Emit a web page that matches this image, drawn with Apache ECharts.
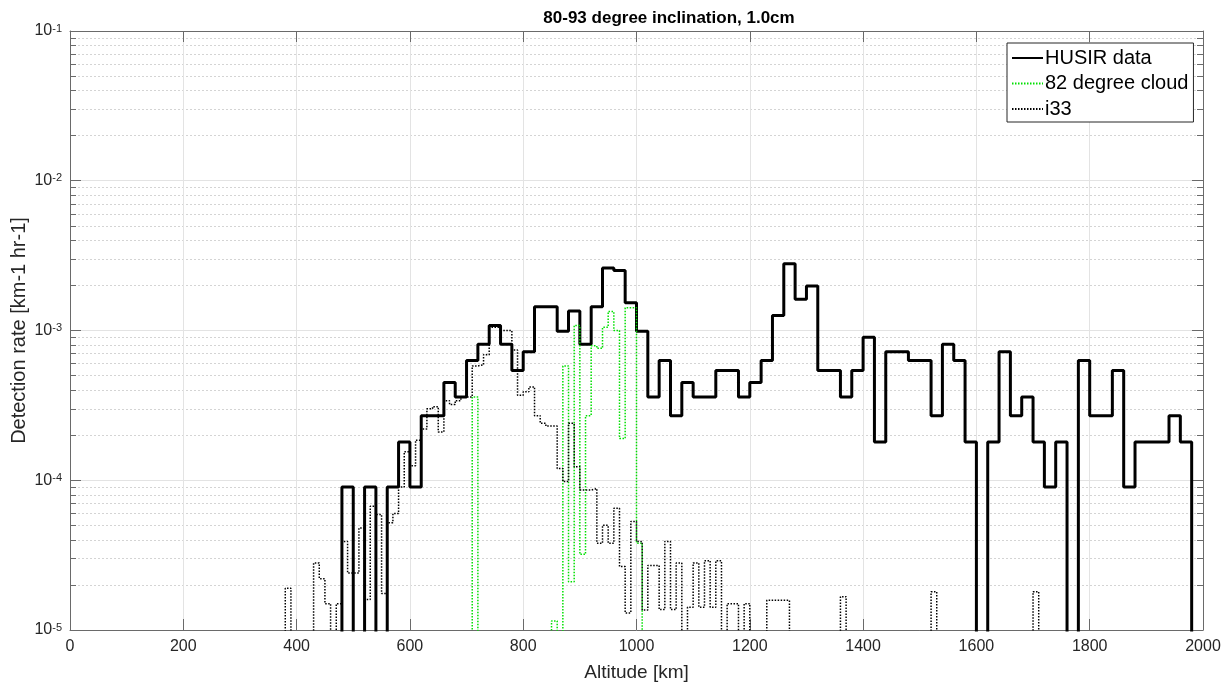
<!DOCTYPE html>
<html>
<head>
<meta charset="utf-8">
<title>80-93 degree inclination, 1.0cm</title>
<script src="https://cdn.jsdelivr.net/npm/echarts@6/dist/echarts.min.js"></script>
<style>
  html, body { margin: 0; padding: 0; background: #fff; }
  #chart { width: 1231px; height: 685px; }
</style>
</head>
<body>
<div id="chart"></div>
<script>
// detection rate [km-1 hr-1] per altitude bin (0 = no detections)
const husirStart = 480;
const husirBinWidth = 20;
const husirRate = [
  9e-5, 0, 9e-5, 0, 9e-5, 1.8e-4, 9e-5, 2.7e-4, 2.7e-4, 4.5e-4,
  3.6e-4, 6.3e-4, 8.1e-4, 1.08e-3, 8.1e-4, 5.4e-4, 7.2e-4, 1.44e-3, 1.44e-3, 9.9e-4,
  1.35e-3, 8.1e-4, 1.44e-3, 2.61e-3, 2.52e-3, 1.53e-3, 9.9e-4, 3.6e-4, 6.3e-4, 2.7e-4,
  4.5e-4, 3.6e-4, 3.6e-4, 5.4e-4, 5.4e-4, 3.6e-4, 4.5e-4, 6.3e-4, 1.26e-3, 2.79e-3,
  1.62e-3, 1.98e-3, 5.4e-4, 5.4e-4, 3.6e-4, 5.4e-4, 9.0e-4, 1.8e-4, 7.2e-4, 7.2e-4,
  6.3e-4, 6.3e-4, 2.7e-4, 8.1e-4, 6.3e-4, 1.8e-4, 0, 1.8e-4, 7.2e-4, 2.7e-4,
  3.6e-4, 1.8e-4, 9e-5, 1.8e-4, 0, 6.3e-4, 2.7e-4, 2.7e-4, 5.4e-4, 9e-5,
  1.8e-4, 1.8e-4, 1.8e-4, 2.7e-4, 1.8e-4
];

const cloudStart = 710;
const cloudBinWidth = 10;
const cloudRate = [
  3.6e-4, 0, 0, 0, 0, 0, 0, 0, 0, 0,
  0, 0, 0, 0, 1.15e-5, 0, 5.8e-4, 2.1e-5, 1.08e-3, 3.2e-5,
  2.7e-4, 7.9e-4, 7.6e-4, 1.05e-3, 1.34e-3, 1.0e-3, 1.9e-4, 1.42e-3, 1.42e-3, 3.8e-5
];

const i33Start = 380;
const i33BinWidth = 10;
const i33Rate = [
  1.9e-5, 0, 0, 0, 0, 2.8e-5, 2.2e-5, 1.5e-5, 0, 1.5e-5,
  3.9e-5, 2.4e-5, 2.4e-5, 4.8e-5, 1.6e-5, 6.7e-5, 5.9e-5, 1.75e-5, 5.2e-5, 6.0e-5,
  9.0e-5, 1.55e-4, 1.25e-4, 1.85e-4, 2.2e-4, 3.0e-4, 3.1e-4, 2.1e-4, 3.4e-4, 3.2e-4,
  3.4e-4, 3.6e-4, 3.6e-4, 5.8e-4, 5.9e-4, 6.9e-4, 1.05e-3, 1.05e-3, 1.0e-3, 1.0e-3,
  7.4e-4, 3.7e-4, 3.9e-4, 4.2e-4, 2.7e-4, 2.4e-4, 2.3e-4, 2.3e-4, 1.2e-4, 9.8e-5,
  2.4e-4, 1.23e-4, 8.6e-5, 8.6e-5, 8.8e-5, 3.8e-5, 5.0e-5, 3.8e-5, 6.5e-5, 2.65e-5,
  1.3e-5, 5.3e-5, 3.9e-5, 1.36e-5, 2.7e-5, 2.7e-5, 1.37e-5, 3.9e-5, 1.37e-5, 2.8e-5,
  0, 1.42e-5, 2.8e-5, 1.42e-5, 2.9e-5, 1.42e-5, 2.9e-5, 0, 1.5e-5, 1.5e-5,
  0, 1.5e-5, 0, 0, 0, 1.58e-5, 1.58e-5, 1.58e-5, 1.58e-5, 0,
  0, 0, 0, 0, 0, 0, 0, 0, 1.67e-5, 0,
  0, 0, 0, 0, 0, 0, 0, 0, 0, 0,
  0, 0, 0, 0, 1.8e-5, 0, 0, 0, 0, 0,
  0, 0, 0, 0, 0, 0, 0, 0, 0, 0,
  0, 0, 1.8e-5
];

// axes
const xMin = 0;
const xMax = 2000;
const xStep = 200;
const yDecades = [1e-5, 1e-4, 1e-3, 1e-2, 1e-1];
const minorMantissas = [2, 3, 4, 5, 6, 7, 8, 9];

const FONT = "'Liberation Sans', Arial, Helvetica, sans-serif";
const TEXT = "#262626";
const AXIS = "#6a6a6a";
const GRID = "#e3e3e3";
const MINOR = "#d4d4d4";
// empty bins sit far below the log axis and get clipped by the grid
const FLOOR = 1e-8;

// minor grid lives on a linear axis in exponent space, lined up with the log axis
const expMin = Math.log10(yDecades[0]);
const expMax = Math.log10(yDecades[yDecades.length - 1]);
const minorExps = [];
yDecades.slice(0, -1).forEach((d) => {
	minorMantissas.forEach((m) => minorExps.push(Math.log10(m * d)));
});

const stairs = (start, width, rates) => {
	let pts = [[xMin, FLOOR]];
	rates.forEach((r, i) => {
		pts.push([start + i * width, r > 0 ? r : FLOOR]);
	});
	pts.push([start + rates.length * width, FLOOR]);
	pts.push([xMax, FLOOR]);
	return pts;
};

const yLabel = (value) => {
	const exp = Math.round(Math.log10(value));
	return "{b|10}{s|" + exp + "}";
};

const majorAxis = (position) => ({
	type: "log",
	logBase: 10,
	min: yDecades[0],
	max: yDecades[yDecades.length - 1],
	position: position,
	axisLine: { show: true, onZero: false, lineStyle: { color: AXIS, width: 1 } },
	axisTick: { show: true, inside: true, length: 11, lineStyle: { color: AXIS, width: 1 } },
	axisLabel: { show: false },
	splitLine: { show: false }
});

const minorAxis = (position, grid) => ({
	type: "value",
	min: expMin,
	max: expMax,
	position: position,
	axisLine: { show: false, onZero: false },
	axisTick: {
		show: true,
		inside: true,
		length: 6,
		customValues: minorExps,
		lineStyle: { color: AXIS, width: 1 }
	},
	axisLabel: { show: false },
	splitLine: { show: grid, lineStyle: { color: MINOR, width: 1, type: [2, 2] } }
});

const chart = echarts.init(document.getElementById("chart"));

const leftMajor = majorAxis("left");
leftMajor.axisLabel = {
	show: true,
	margin: 8,
	color: TEXT,
	fontFamily: FONT,
	formatter: yLabel,
	rich: {
		b: { fontSize: 16, color: TEXT, fontFamily: FONT },
		s: { fontSize: 11, color: TEXT, fontFamily: FONT, verticalAlign: "top" }
	}
};
leftMajor.splitLine = { show: true, lineStyle: { color: GRID, width: 1 } };
leftMajor.name = "Detection rate [km-1 hr-1]";
leftMajor.nameLocation = "middle";
leftMajor.nameGap = 41;
leftMajor.nameMoveOverlap = false;
leftMajor.nameTextStyle = { fontSize: 20, color: TEXT, fontFamily: FONT };

chart.setOption({
	animation: false,
	backgroundColor: "#fff",
	title: {
		text: "80-93 degree inclination, 1.0cm",
		left: 664,
		top: 5,
		textAlign: "center",
		textStyle: { fontSize: 17, fontWeight: "bold", color: "#000", fontFamily: FONT }
	},
	legend: {
		orient: "vertical",
		left: 1007,
		top: 43,
		padding: [5, 5, 3, 4],
		itemGap: 5.5,
		itemWidth: 31,
		itemHeight: 12,
		backgroundColor: "#fff",
		borderColor: "#262626",
		borderWidth: 1,
		borderRadius: 0,
		itemStyle: { color: "transparent", borderColor: "transparent", borderWidth: 0 },
		textStyle: { fontSize: 20, color: "#000", fontFamily: FONT, padding: [0, 0, 0, -3] },
		data: ["HUSIR data", "82 degree cloud", "i33"]
	},
	grid: { left: 70, right: 28, top: 31, bottom: 55, containLabel: false, outerBoundsMode: "none" },
	xAxis: [{
		type: "value",
		min: xMin,
		max: xMax,
		interval: xStep,
		position: "bottom",
		axisLine: { show: true, onZero: false, lineStyle: { color: AXIS, width: 1 } },
		axisTick: { show: true, inside: true, length: 11, lineStyle: { color: AXIS } },
		axisLabel: {
			color: TEXT,
			fontSize: 16,
			margin: 9,
			fontFamily: FONT,
			showMinLabel: true,
			showMaxLabel: true,
			formatter: (v) => String(v)
		},
		splitLine: { show: true, lineStyle: { color: GRID, width: 1 } },
		name: "Altitude [km]",
		nameLocation: "middle",
		nameGap: 33,
		nameTextStyle: { fontSize: 19, color: TEXT, fontFamily: FONT }
	}, {
		type: "value",
		min: xMin,
		max: xMax,
		interval: xStep,
		position: "top",
		axisLine: { show: true, onZero: false, lineStyle: { color: AXIS, width: 1 } },
		axisTick: { show: true, inside: true, length: 11, lineStyle: { color: AXIS } },
		axisLabel: { show: false },
		splitLine: { show: false }
	}],
	yAxis: [leftMajor, minorAxis("left", true), majorAxis("right"), minorAxis("right", false)],
	series: [{
		name: "HUSIR data",
		type: "line",
		step: "end",
		symbol: "none",
		clip: true,
		data: stairs(husirStart, husirBinWidth, husirRate),
		lineStyle: { color: "#000", width: 3 },
		itemStyle: { color: "#000" }
	}, {
		name: "82 degree cloud",
		type: "line",
		step: "end",
		symbol: "none",
		clip: true,
		data: stairs(cloudStart, cloudBinWidth, cloudRate),
		lineStyle: { color: "#00e000", width: 1.5, type: [1.5, 1.5] },
		itemStyle: { color: "#00e000" }
	}, {
		name: "i33",
		type: "line",
		step: "end",
		symbol: "none",
		clip: true,
		data: stairs(i33Start, i33BinWidth, i33Rate),
		lineStyle: { color: "#000", width: 1.5, type: [1.5, 1.5] },
		itemStyle: { color: "#000" }
	}]
});
</script>
</body>
</html>
